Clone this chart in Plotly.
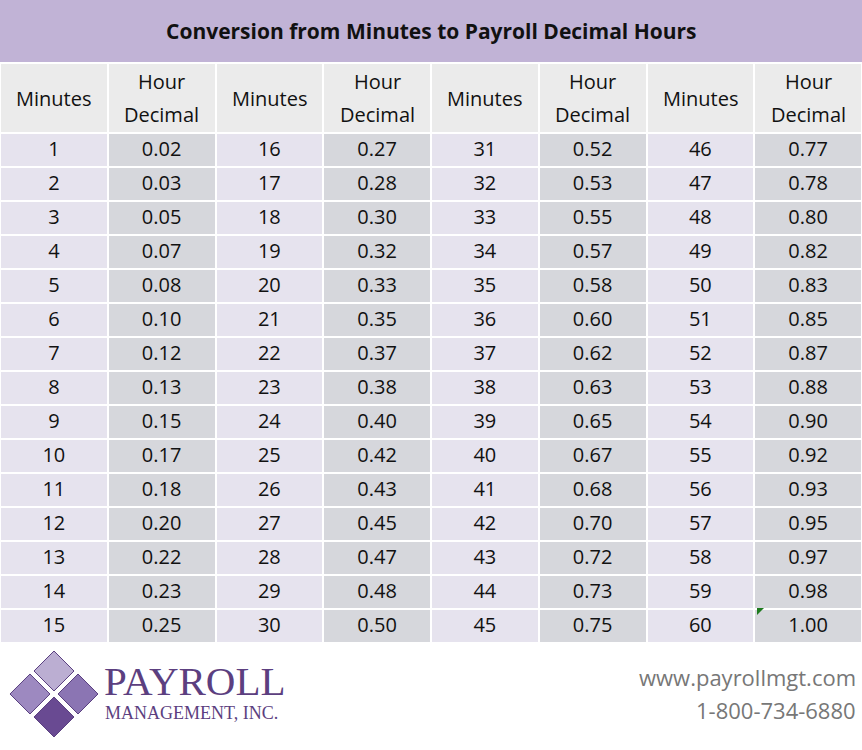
import plotly.graph_objects as go

minutes = list(range(1, 61))
decimals = ["0.02","0.03","0.05","0.07","0.08","0.10","0.12","0.13","0.15","0.17","0.18","0.20","0.22","0.23","0.25",
            "0.27","0.28","0.30","0.32","0.33","0.35","0.37","0.38","0.40","0.42","0.43","0.45","0.47","0.48","0.50",
            "0.52","0.53","0.55","0.57","0.58","0.60","0.62","0.63","0.65","0.67","0.68","0.70","0.72","0.73","0.75",
            "0.77","0.78","0.80","0.82","0.83","0.85","0.87","0.88","0.90","0.92","0.93","0.95","0.97","0.98","1.00"]
headers = ["Minutes", "Hour|Decimal"] * 4
title = "Conversion from Minutes to Payroll Decimal Hours"

W, H = 862, 750
cols, fills = [], []
for g in range(4):
    cols.append([str(m) for m in minutes[g*15:(g+1)*15]])
    cols.append(decimals[g*15:(g+1)*15])
    fills += ["#E6E3EE", "#D6D7DC"]

fig = go.Figure(go.Table(
    domain=dict(x=[0, 1], y=[1 - 642/H, 1 - 63/H]),
    columnwidth=[1]*8,
    header=dict(values=[""]*8, height=70, fill_color="#EBEBEB",
                line=dict(color="white", width=2), align="center",
                font=dict(family="Open Sans", size=20, color="#111")),
    cells=dict(values=cols, height=34, fill_color=fills,
               line=dict(color="white", width=2), align="center",
               font=dict(family="Open Sans", size=20, color="#111")),
))

shapes = [dict(type="rect", xref="paper", yref="paper", x0=0, x1=1, y0=1-62/H, y1=1,
               fillcolor="#C1B3D6", line_width=0, layer="below")]
for (cx, cy, col) in [(54, 671, "#BBAED2"), (30, 694, "#9D89C0"), (78, 694, "#8B75B3"), (54, 717, "#694A92")]:
    r = 20
    pts = [(cx, cy - r), (cx + r, cy), (cx, cy + r), (cx - r, cy)]
    p = "M " + " L ".join(f"{a/W:.5f},{1-b/H:.5f}" for a, b in pts) + " Z"
    shapes.append(dict(type="path", xref="paper", yref="paper", path=p, fillcolor=col,
                       line=dict(color="#5A4080", width=1)))
shapes.append(dict(type="path", xref="paper", yref="paper",
                   path=f"M {757/W},{1-608/H} L {764/W},{1-608/H} L {757/W},{1-615/H} Z",
                   fillcolor="#1E7B1E", line_width=0))

hf = dict(family="Open Sans", size=20, color="#111")
ann = [
    dict(text=f"<b>{title}</b>", x=0.5, y=1-31/H, font=dict(family="Open Sans", size=21, color="#111")),
    dict(text="PAYROLL", x=102/W, y=1-681/H, xanchor="left", font=dict(family="Liberation Serif", size=41, color="#5C3F80")),
    dict(text="MANAGEMENT, INC.", x=103/W, y=1-713/H, xanchor="left", font=dict(family="Liberation Serif", size=18, color="#5C3F80")),
    dict(text="www.payrollmgt.com", x=858/W, y=1-677/H, xanchor="right", font=dict(family="Open Sans", size=22, color="#777")),
    dict(text="1-800-734-6880", x=858/W, y=1-710/H, xanchor="right", font=dict(family="Open Sans", size=22, color="#777")),
]
colw = W / 8
for i, h in enumerate(headers):
    cx = (i + 0.5) * colw / W
    parts = h.split("|")
    if len(parts) == 1:
        ann.append(dict(text=parts[0], x=cx, y=1-98/H, font=hf))
    else:
        ann.append(dict(text=parts[0], x=cx, y=1-82/H, font=hf))
        ann.append(dict(text=parts[1], x=cx, y=1-114/H, font=hf))
for a in ann:
    a.update(xref="paper", yref="paper", showarrow=False, yanchor="middle")
    a.setdefault("xanchor", "center")

fig.update_layout(width=W, height=H, margin=dict(l=0, r=0, t=0, b=0),
                  paper_bgcolor="white", shapes=shapes, annotations=ann)
fig.write_html("out.html", config={"displayModeBar": False},
               post_script="document.body.style.margin='0';document.body.style.overflow='hidden';")
